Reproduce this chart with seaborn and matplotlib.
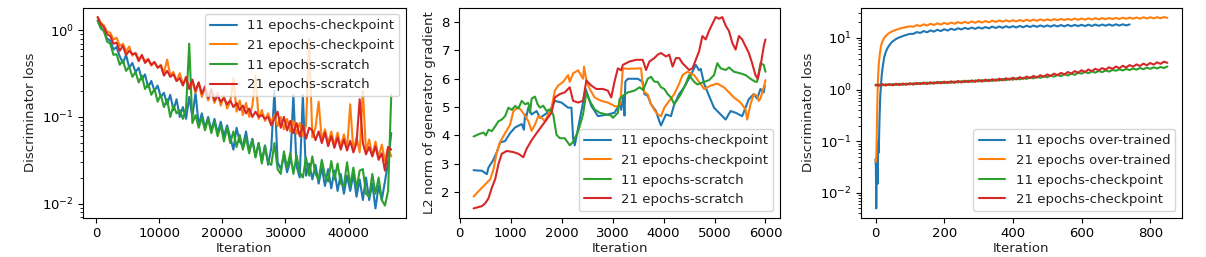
import numpy as np
import pandas as pd
import matplotlib
matplotlib.use("Agg")
import matplotlib.pyplot as plt
from matplotlib.ticker import MultipleLocator
import seaborn as sns

# ---------------- data: panel 1 (discriminator loss, log) ----------------
iter1 = np.arange(250, 46751, 500)
p1_ckpt11 = [1.3, 1.08, 0.98, 0.8, 0.76, 0.6, 0.64, 0.5, 0.42, 0.52,
             0.37, 0.42, 0.33, 0.37, 0.27, 0.31, 0.22, 0.26, 0.2, 0.23,
             0.17, 0.19, 0.14, 0.18, 0.12, 0.16, 0.1, 0.13, 0.095, 0.17,
             0.1, 0.19, 0.08, 0.11, 0.075, 0.1, 0.07, 0.095, 0.065, 0.088,
             0.06, 0.08, 0.058, 0.042, 0.075, 0.052, 0.046, 0.068, 0.04, 0.056,
             0.035, 0.05, 0.031, 0.047, 0.028, 0.044, 0.2, 0.03, 0.025, 0.036,
             0.023, 0.031, 0.18, 0.027, 0.02, 0.18, 0.021, 0.029, 0.019, 0.028,
             0.017, 0.026, 0.016, 0.025, 0.015, 0.024, 0.014, 0.022, 0.013, 0.021,
             0.014, 0.022, 0.012, 0.019, 0.011, 0.02, 0.011, 0.017, 0.0088, 0.016,
             0.011, 0.018, 0.03, 0.065]
p1_ckpt21 = [1.42, 1.22, 1.14, 0.96, 0.94, 0.78, 0.82, 0.66, 0.7, 0.57,
             0.65, 0.51, 0.55, 0.47, 0.5, 0.44, 0.47, 0.39, 0.43, 0.37,
             0.4, 0.32, 0.46, 0.3, 0.33, 0.26, 0.32, 0.24, 0.27, 0.22,
             0.25, 0.19, 0.25, 0.17, 0.22, 0.155, 0.2, 0.145, 0.19, 0.135,
             0.175, 0.125, 0.15, 0.28, 0.115, 0.155, 0.105, 0.145, 0.1, 0.135,
             0.3, 0.095, 0.12, 0.09, 0.11, 0.085, 0.105, 0.078, 0.1, 0.072,
             0.095, 0.068, 0.09, 0.064, 0.085, 0.06, 0.08, 0.8, 0.058, 0.075,
             0.15, 0.054, 0.072, 0.05, 0.068, 0.047, 0.066, 0.045, 0.063, 0.043,
             0.14, 0.041, 0.058, 0.039, 0.2, 0.04, 0.055, 0.036, 0.052, 0.034,
             0.048, 0.031, 0.045, 0.035]
p1_scr11 = [1.28, 1.05, 0.98, 0.74, 0.7, 0.52, 0.53, 0.4, 0.45, 0.34,
            0.38, 0.29, 0.33, 0.25, 0.3, 0.21, 0.24, 0.18, 0.21, 0.15,
            0.18, 0.13, 0.16, 0.1, 0.135, 0.11, 0.12, 0.095, 0.125, 0.7,
            0.085, 0.105, 0.075, 0.098, 0.07, 0.095, 0.065, 0.088, 0.06, 0.08,
            0.052, 0.075, 0.05, 0.068, 0.045, 0.062, 0.042, 0.058, 0.038, 0.055,
            0.034, 0.05, 0.029, 0.046, 0.03, 0.028, 0.05, 0.025, 0.022, 0.04,
            0.026, 0.038, 0.022, 0.036, 0.023, 0.02, 0.034, 0.021, 0.035, 0.022,
            0.019, 0.032, 0.021, 0.018, 0.031, 0.019, 0.029, 0.017, 0.016, 0.03,
            0.016, 0.026, 0.015, 0.024, 0.025, 0.013, 0.012, 0.022, 0.013, 0.02,
            0.011, 0.0095, 0.014, 0.18]
p1_scr21 = [1.42, 1.18, 1.08, 0.9, 0.86, 0.7, 0.72, 0.58, 0.66, 0.52,
            0.58, 0.53, 0.54, 0.44, 0.52, 0.42, 0.46, 0.4, 0.43, 0.37,
            0.39, 0.3, 0.34, 0.29, 0.31, 0.26, 0.28, 0.23, 0.29, 0.21,
            0.27, 0.2, 0.25, 0.185, 0.225, 0.165, 0.21, 0.155, 0.175, 0.15,
            0.165, 0.14, 0.155, 0.13, 0.145, 0.12, 0.135, 0.11, 0.125, 0.1,
            0.115, 0.1, 0.105, 0.095, 0.1, 0.08, 0.095, 0.115, 0.075, 0.1,
            0.07, 0.09, 0.065, 0.085, 0.06, 0.08, 0.056, 0.075, 0.07, 0.054,
            0.068, 0.05, 0.066, 0.046, 0.06, 0.044, 0.058, 0.042, 0.055, 0.041,
            0.053, 0.039, 0.05, 0.16, 0.05, 0.037, 0.045, 0.035, 0.046, 0.032,
            0.038, 0.024, 0.045, 0.042]
labels1 = ["11 epochs-checkpoint", "21 epochs-checkpoint",
           "11 epochs-scratch", "21 epochs-scratch"]

# ---------------- data: panel 2 (L2 norm of generator gradient) ----------------
p2_ckpt11_x = [273, 436, 533, 566, 650, 729, 794, 891, 989, 1087, 1217, 1260, 1282, 1300,
               1347, 1412, 1509, 1575, 1672, 1770, 1867, 1997, 2127, 2193, 2225, 2258,
               2388, 2472, 2583, 2713, 2908, 3038, 3136, 3169, 3210, 3234, 3250, 3299,
               3494, 3591, 3624, 3689, 3754, 3852, 3917, 3950, 4047, 4145, 4210, 4307,
               4405, 4535, 4632, 4697, 4730, 4795, 4892, 4990, 5120, 5218, 5315, 5413,
               5543, 5608, 5673, 5771, 5836, 5901, 5966, 5986]
p2_ckpt11_y = [2.77, 2.75, 2.63, 2.87, 3.1, 3.41, 3.75, 3.8, 4.08, 4.28, 4.4, 4.2, 4.74, 4.6,
               4.98, 4.74, 4.86, 4.62, 4.74, 4.86, 5.22, 5.16, 4.98, 4.98, 3.9, 3.65,
               4.86, 5.64, 5.04, 4.68, 4.74, 4.8, 5.1, 4.9, 5.4, 4.7, 5.9, 6.0,
               6.0, 5.89, 5.46, 5.4, 5.1, 4.86, 4.5, 4.35, 4.74, 4.68, 5.1, 5.46,
               5.7, 6.13, 6.49, 6.3, 6.35, 5.83, 5.4, 4.98, 4.74, 4.56, 4.86, 4.8,
               4.68, 4.98, 5.28, 5.46, 5.3, 5.64, 5.52, 5.76]
p2_ckpt21_x = [273, 436, 599, 664, 729, 794, 891, 989, 1054, 1152, 1217, 1282, 1347, 1412,
               1477, 1542, 1607, 1672, 1737, 1802, 1867, 1932, 2030, 2127, 2160, 2225,
               2323, 2420, 2440, 2485, 2550, 2648, 2778, 2908, 3038, 3104, 3150, 3201,
               3299, 3559, 3590, 3624, 3689, 3754, 3819, 3884, 3950, 4015, 4112, 4210,
               4307, 4372, 4470, 4600, 4697, 4795, 4860, 4925, 5055, 5185, 5283, 5380,
               5510, 5608, 5641, 5706, 5771, 5836, 5868, 5900, 5966, 5999]
p2_ckpt21_y = [1.84, 2.15, 2.45, 2.8, 3.41, 3.77, 4.08, 4.38, 4.86, 5.0, 4.86, 4.7, 4.5, 4.16,
               4.38, 4.68, 4.62, 4.5, 4.74, 4.98, 5.58, 5.76, 5.89, 6.13, 5.89, 6.19,
               6.3, 6.0, 6.43, 5.94, 5.64, 5.34, 5.22, 5.16, 5.04, 5.0, 5.1, 6.37,
               6.35, 6.37, 5.8, 5.52, 5.45, 5.1, 4.9, 4.74, 4.68, 4.98, 5.22, 5.46,
               5.83, 6.13, 6.25, 6.13, 5.89, 5.64, 5.7, 5.76, 5.83, 5.7, 5.52, 5.34,
               5.16, 4.92, 4.56, 5.1, 5.46, 5.4, 5.22, 5.3, 5.7, 5.95]
p2_scr11_x = [273, 371, 469, 514, 566, 631, 696, 761, 826, 891, 956, 1021, 1087, 1152,
              1217, 1282, 1347, 1379, 1412, 1477, 1529, 1575, 1640, 1705, 1770, 1835,
              1867, 1900, 1965, 2062, 2160, 2225, 2323, 2420, 2485, 2550, 2648, 2745,
              2876, 2973, 3006, 3104, 3136, 3201, 3299, 3429, 3530, 3600, 3689, 3754,
              3819, 3884, 3950, 4015, 4080, 4145, 4210, 4275, 4340, 4437, 4503, 4600,
              4665, 4730, 4795, 4892, 4990, 5055, 5120, 5218, 5283, 5380, 5510, 5608,
              5706, 5803, 5836, 5901, 5966, 5999]
p2_scr11_y = [3.96, 4.04, 4.1, 4.0, 4.2, 4.15, 4.32, 4.5, 4.56, 4.68, 4.98, 4.9, 5.04, 4.95,
              5.22, 5.1, 5.15, 4.8, 5.3, 5.37, 5.1, 4.98, 5.05, 4.86, 4.92, 4.74,
              4.38, 4.02, 3.9, 3.9, 3.65, 3.77, 4.14, 4.74, 5.52, 5.22, 4.92, 4.8,
              4.74, 4.7, 4.62, 4.8, 5.28, 5.4, 5.52, 5.58, 5.7, 5.6, 6.0, 6.07,
              5.9, 5.89, 5.7, 5.64, 5.46, 5.34, 5.1, 5.28, 5.46, 5.83, 6.13, 5.89,
              5.8, 5.85, 5.89, 5.95, 6.13, 6.55, 6.37, 6.31, 6.4, 6.25, 6.19, 6.13,
              6.0, 5.89, 5.9, 6.55, 6.49, 6.25]
p2_scr21_x = [273, 330, 436, 501, 566, 631, 696, 761, 826, 924, 1054, 1152, 1249, 1314,
              1412, 1509, 1607, 1705, 1802, 1867, 1965, 2062, 2160, 2225, 2323, 2420,
              2485, 2583, 2680, 2810, 2908, 2973, 3038, 3104, 3169, 3201, 3331, 3461,
              3591, 3657, 3722, 3819, 3884, 3950, 4047, 4112, 4177, 4242, 4307, 4372,
              4437, 4503, 4568, 4632, 4697, 4762, 4827, 4892, 4958, 5023, 5088, 5153,
              5218, 5283, 5348, 5413, 5478, 5543, 5608, 5673, 5738, 5803, 5849, 5901,
              5966, 5999]
p2_scr21_y = [1.42, 1.45, 1.5, 1.6, 1.78, 2.15, 2.45, 2.99, 3.35, 3.45, 3.41, 3.35, 3.23, 3.53,
              3.83, 4.08, 4.32, 4.56, 4.8, 5.34, 5.46, 5.52, 5.7, 5.22, 5.16, 5.22,
              5.94, 5.76, 5.64, 5.64, 5.58, 5.34, 5.9, 6.37, 6.3, 6.49, 6.61, 6.67,
              6.67, 6.31, 6.61, 6.73, 6.85, 6.91, 6.79, 6.85, 6.43, 6.73, 6.73, 6.55,
              6.43, 6.31, 6.37, 6.67, 6.97, 7.51, 7.39, 7.69, 7.94, 8.18, 8.12, 8.18,
              7.88, 7.69, 7.27, 7.03, 7.51, 7.39, 7.15, 6.91, 6.55, 6.13, 6.0, 6.43,
              7.15, 7.39]

# ---------------- data: panel 3 (discriminator loss, log) ----------------
p3_over11_x = [0, 1, 2, 3, 4, 5, 6, 7, 8, 9, 10, 11, 12, 13, 14, 16, 18, 20, 25, 30,
               35, 40, 45, 50, 60, 70, 80, 90, 100] + list(range(110, 741, 10))
p3_over11_y = [0.045, 0.03, 0.005, 0.02, 0.045, 0.035, 0.015, 0.05, 0.1, 0.06,
               0.1, 0.2, 0.35, 0.55, 0.8, 1.3, 1.9, 2.5, 4.2, 5.4,
               6.4, 7.2, 8.0, 8.6, 9.6, 10.3, 10.9, 11.5, 12.0,
               12.0, 13.0, 12.5, 13.6, 12.9, 14.0, 13.3, 14.4, 13.6, 14.8,
               13.9, 15.1, 14.3, 15.4, 14.6, 15.7, 14.9, 15.9, 15.0, 16.1,
               15.2, 16.3, 15.4, 16.6, 15.6, 16.7, 15.7, 16.9, 15.9, 16.9,
               16.0, 17.1, 16.1, 17.3, 16.3, 17.4, 16.4, 17.5, 16.5, 17.5,
               16.6, 17.7, 16.7, 17.8, 16.8, 17.9, 16.9, 17.9, 17.0, 18.0,
               17.0, 18.1, 17.1, 18.2, 17.2, 18.2, 17.3, 18.3, 17.3, 18.4,
               17.4, 18.4, 17.5, 18.3]
p3_over21_x = [0, 1, 2, 3, 4, 5, 6, 7, 8, 9, 10, 12, 14, 16, 18, 20, 25, 30, 35, 40,
               50, 60, 70, 80, 90, 100] + list(range(110, 851, 10))
p3_over21_y = [0.045, 0.04, 0.05, 0.08, 0.2, 0.45, 0.9, 1.5, 2.1, 2.8,
               3.5, 4.6, 5.8, 7.0, 7.8, 8.5, 10.0, 11.0, 11.8, 12.5,
               13.6, 14.4, 15.2, 15.8, 16.3, 16.8,
               16.5, 17.8, 17.0, 18.4, 17.4, 18.8, 17.8, 19.2, 18.2, 19.6,
               18.5, 19.9, 18.8, 20.3, 19.2, 20.6, 19.4, 20.9, 19.7, 21.1,
               19.9, 21.3, 20.1, 21.6, 20.4, 21.8, 20.6, 22.0, 20.8, 22.1,
               20.9, 22.3, 21.1, 22.5, 21.3, 22.7, 21.5, 22.9, 21.7, 23.0,
               21.8, 23.2, 22.0, 23.4, 22.2, 23.5, 22.3, 23.7, 22.5, 23.8,
               22.6, 24.0, 22.8, 24.1, 22.9, 24.3, 23.1, 24.4, 23.2, 24.5,
               23.3, 24.7, 23.5, 24.8, 23.6, 24.9, 23.7, 25.1, 23.9, 25.2,
               24.0, 25.3, 24.1, 25.4, 24.5]
iter3 = np.arange(0, 851, 10)
p3_ckpt11_y = [1.2, 1.26, 1.21, 1.27, 1.22, 1.28, 1.23, 1.3, 1.24, 1.31,
               1.26, 1.33, 1.27, 1.35, 1.29, 1.37, 1.3, 1.39, 1.32, 1.41,
               1.33, 1.42, 1.35, 1.44, 1.37, 1.46, 1.39, 1.49, 1.41, 1.51,
               1.43, 1.53, 1.45, 1.55, 1.47, 1.58, 1.49, 1.61, 1.52, 1.64,
               1.55, 1.66, 1.58, 1.7, 1.61, 1.74, 1.65, 1.78, 1.69, 1.83,
               1.73, 1.88, 1.78, 1.93, 1.82, 1.99, 1.87, 2.05, 1.93, 2.12,
               2.04, 2.2, 2.08, 2.25, 2.13, 2.3, 2.18, 2.35, 2.23, 2.41,
               2.32, 2.47, 2.35, 2.51, 2.39, 2.56, 2.44, 2.62, 2.49, 2.66,
               2.53, 2.7, 2.57, 2.74, 2.62, 2.8]
p3_ckpt21_y = [1.25, 1.19, 1.27, 1.2, 1.28, 1.21, 1.3, 1.22, 1.31, 1.24,
               1.33, 1.25, 1.35, 1.27, 1.37, 1.28, 1.39, 1.3, 1.41, 1.32,
               1.43, 1.34, 1.45, 1.35, 1.47, 1.37, 1.49, 1.39, 1.51, 1.41,
               1.54, 1.43, 1.56, 1.46, 1.59, 1.48, 1.63, 1.51, 1.66, 1.55,
               1.7, 1.58, 1.74, 1.62, 1.79, 1.66, 1.84, 1.71, 1.9, 1.77,
               1.97, 1.83, 2.04, 1.9, 2.11, 1.97, 2.19, 2.04, 2.28, 2.12,
               2.37, 2.2, 2.45, 2.28, 2.53, 2.36, 2.61, 2.44, 2.7, 2.52,
               2.8, 2.6, 2.89, 2.69, 2.98, 2.78, 3.08, 2.87, 3.18, 2.96,
               3.27, 3.05, 3.37, 3.15, 3.48, 3.3]
labels3 = ["11 epochs over-trained", "21 epochs over-trained",
           "11 epochs-checkpoint", "21 epochs-checkpoint"]

# ---------------- style ----------------
FS = 9.5
sns.set_theme(style="ticks", rc={
    "font.size": FS, "axes.labelsize": FS, "xtick.labelsize": FS,
    "ytick.labelsize": FS, "legend.fontsize": FS,
    "axes.linewidth": 0.8, "axes.edgecolor": "black",
    "xtick.major.width": 0.8, "ytick.major.width": 0.8,
    "xtick.minor.width": 0.6, "ytick.minor.width": 0.6,
    "xtick.major.size": 3.5, "ytick.major.size": 3.5,
    "xtick.minor.size": 2.0, "ytick.minor.size": 2.0,
    "xtick.major.pad": 3.0, "ytick.major.pad": 3.0,
    "xtick.color": "black", "ytick.color": "black",
    "text.color": "#222222", "axes.labelcolor": "#222222",
    "lines.linewidth": 1.5,
    "legend.framealpha": 0.8, "legend.edgecolor": "0.8", "legend.fancybox": True,
})
plt.rcParams["font.family"] = ["DejaVu Sans"]
pal = sns.color_palette("tab10")

fig = plt.figure(figsize=(12.06, 2.57), dpi=100)
bottom, height = 0.1518, 0.819
ax1 = fig.add_axes([0.0688, bottom, 0.2678, height])
ax2 = fig.add_axes([0.3806, bottom, 0.2662, height])
ax3 = fig.add_axes([0.7139, bottom, 0.2662, height])


def draw(ax, xs, ys, label, color):
    df = pd.DataFrame({"Iteration": np.asarray(xs, dtype=float),
                       "value": np.asarray(ys, dtype=float)})
    sns.lineplot(data=df, x="Iteration", y="value", ax=ax, label=label,
                 color=color, estimator=None, sort=False, linewidth=1.5)


# panel 1
for ys, lab, c in zip([p1_ckpt11, p1_ckpt21, p1_scr11, p1_scr21], labels1, pal[:4]):
    draw(ax1, iter1, ys, lab, c)
ax1.set_yscale("log")
ax1.set_ylabel("Discriminator loss")
ax1.legend(loc="upper right")

# panel 2
p2 = [(p2_ckpt11_x, p2_ckpt11_y), (p2_ckpt21_x, p2_ckpt21_y),
      (p2_scr11_x, p2_scr11_y), (p2_scr21_x, p2_scr21_y)]
for (xs, ys), lab, c in zip(p2, labels1, pal[:4]):
    draw(ax2, xs, ys, lab, c)
ax2.yaxis.set_major_locator(MultipleLocator(1))
ax2.set_ylabel("L2 norm of generator gradient")
ax2.legend(loc="lower right")

# panel 3
p3 = [(p3_over11_x, p3_over11_y), (p3_over21_x, p3_over21_y),
      (iter3, p3_ckpt11_y), (iter3, p3_ckpt21_y)]
for (xs, ys), lab, c in zip(p3, labels3, pal[:4]):
    draw(ax3, xs, ys, lab, c)
ax3.set_yscale("log")
ax3.set_ylabel("Discriminator loss")
ax3.legend(loc="lower right")

for ax in (ax1, ax2, ax3):
    ax.set_xlabel("Iteration", labelpad=1.5)
    for s in ax.spines.values():
        s.set_visible(True)
        s.set_color("black")

fig.savefig("out.png", dpi=100)
